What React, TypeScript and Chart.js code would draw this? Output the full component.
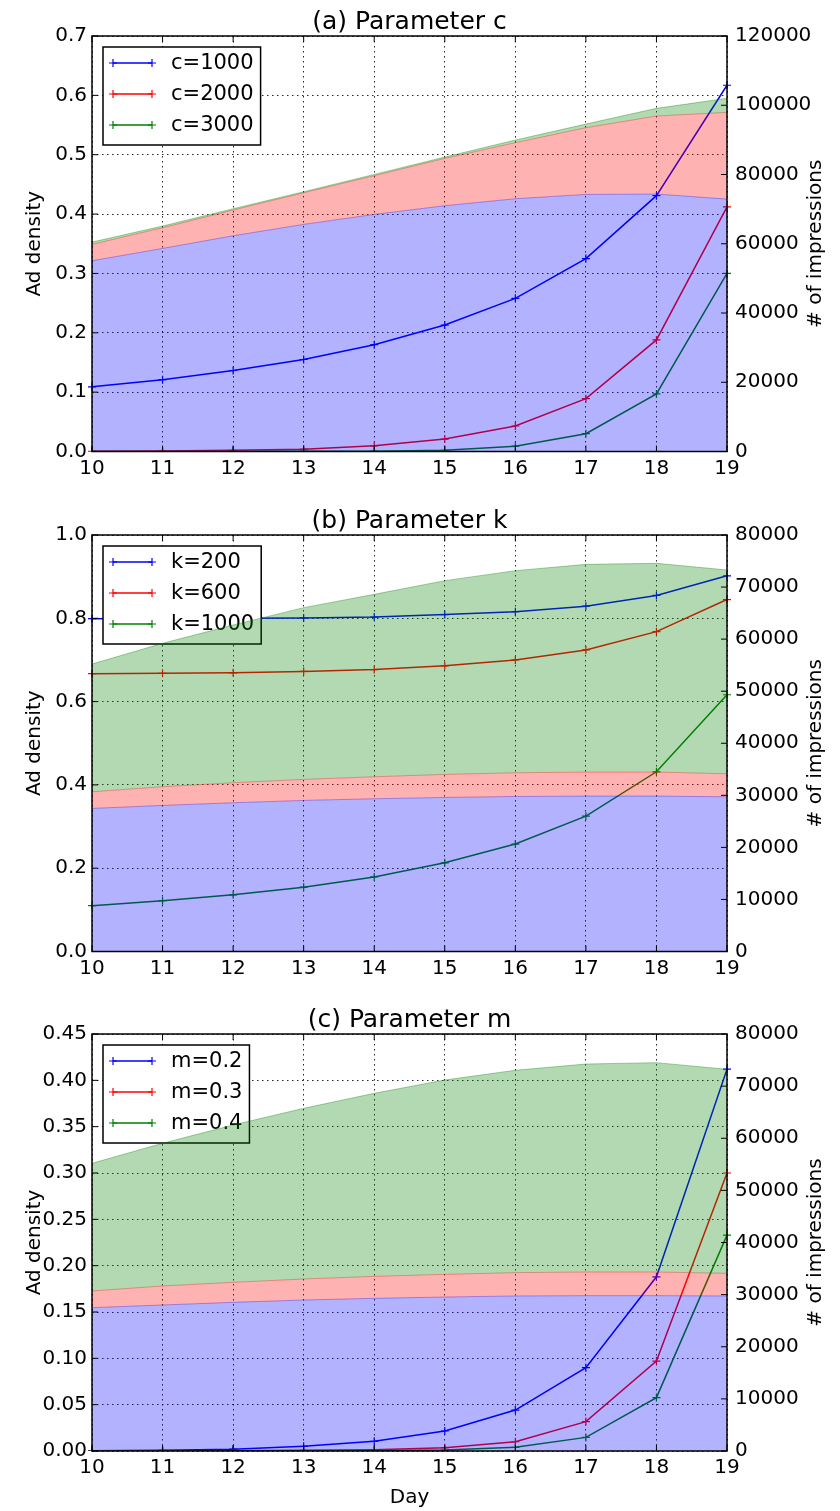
import React, { useEffect, useRef } from 'react';
import { Chart, registerables } from 'chart.js';

Chart.register(...registerables);
Chart.defaults.font.family = '"DejaVu Sans", sans-serif';

// ---------- shared ----------
const days = ['10', '11', '12', '13', '14', '15', '16', '17', '18', '19'];

// ---------- panel (a) : parameter c ----------
const labelsC = ['c=1000', 'c=2000', 'c=3000'];
const densC1000 = [0.109, 0.121, 0.1365, 0.155, 0.18, 0.213, 0.258, 0.325, 0.431, 0.617];
const densC2000 = [0.0003, 0.001, 0.002, 0.004, 0.0095, 0.021, 0.043, 0.089, 0.188, 0.412];
const densC3000 = [0, 0, 0.0001, 0.0003, 0.0006, 0.002, 0.009, 0.03, 0.097, 0.3];
const imprC1000 = [55090, 58650, 62310, 65590, 68475, 70980, 73000, 74250, 74350, 72900];
const imprC2000 = [4710, 5970, 7420, 9140, 11175, 13670, 16180, 19260, 22540, 25040];
const imprC3000 = [680, 480, 380, 290, 380, 390, 770, 1060, 2210, 4050];
const densTicksA = [0, 0.1, 0.2, 0.3, 0.4, 0.5, 0.6, 0.7];
const imprTicksA = [0, 20000, 40000, 60000, 80000, 100000, 120000];

// ---------- panel (b) : parameter k ----------
const labelsK = ['k=200', 'k=600', 'k=1000'];
const densK200 = [0.799, 0.8, 0.8, 0.801, 0.803, 0.809, 0.816, 0.829, 0.855, 0.902];
const densK600 = [0.667, 0.668, 0.669, 0.6725, 0.677, 0.686, 0.7, 0.724, 0.768, 0.845];
const densK1000 = [0.11, 0.122, 0.136, 0.1545, 0.179, 0.213, 0.258, 0.325, 0.4315, 0.6165];
const imprK200 = [27480, 28060, 28570, 29020, 29340, 29590, 29780, 29850, 29850, 29720];
const imprK600 = [3200, 3590, 3840, 4040, 4220, 4420, 4550, 4610, 4610, 4420];
const imprK1000 = [24530, 27540, 30300, 32990, 35040, 37220, 38820, 39900, 40100, 39140];
const densTicksB = [0, 0.2, 0.4, 0.6, 0.8, 1.0];
const imprTicksB = [0, 10000, 20000, 30000, 40000, 50000, 60000, 70000, 80000];

// ---------- panel (c) : parameter m ----------
const labelsM = ['m=0.2', 'm=0.3', 'm=0.4'];
const densM02 = [0.0004, 0.0007, 0.002, 0.005, 0.0104, 0.0216, 0.0442, 0.0899, 0.188, 0.412];
const densM03 = [0, 0, 0.0004, 0.0007, 0.0014, 0.0036, 0.01, 0.0317, 0.097, 0.3];
const densM04 = [0, 0, 0, 0.0001, 0.0004, 0.001, 0.004, 0.0147, 0.0576, 0.233];
const imprM02 = [27500, 28010, 28520, 28970, 29290, 29540, 29740, 29800, 29800, 29740];
const imprM03 = [3200, 3650, 3840, 4030, 4220, 4350, 4480, 4540, 4540, 4350];
const imprM04 = [24490, 27370, 30180, 32740, 35110, 37280, 38820, 39900, 40160, 39140];
const densTicksC = [0, 0.05, 0.1, 0.15, 0.2, 0.25, 0.3, 0.35, 0.4, 0.45];
const imprTicksC = [0, 10000, 20000, 30000, 40000, 50000, 60000, 70000, 80000];

const LINE_COLORS = ['#0000ff', '#ff0000', '#008000'];
const FILL_COLORS = ['rgba(0,0,255,0.3)', 'rgba(255,0,0,0.3)', 'rgba(0,128,0,0.3)'];
const EDGE_COLORS = ['rgba(0,0,255,0.35)', 'rgba(255,0,0,0.35)', 'rgba(0,128,0,0.35)'];

type Panel = {
  title: string;
  labels: string[];
  dens: number[][];
  impr: number[][];
  densTicks: number[];
  imprTicks: number[];
  decimals: number;
  top: number;
  height: number;
  plotTop: number;
  plotBottom: number;
  xTitle?: string;
};

const PLOT_LEFT = 92;
const PLOT_RIGHT = 727;
const W = 840;

const panels: Panel[] = [
  {
    title: '(a) Parameter c', labels: labelsC,
    dens: [densC1000, densC2000, densC3000], impr: [imprC1000, imprC2000, imprC3000],
    densTicks: densTicksA, imprTicks: imprTicksA, decimals: 1,
    top: 0, height: 500, plotTop: 36, plotBottom: 451.5,
  },
  {
    title: '(b) Parameter k', labels: labelsK,
    dens: [densK200, densK600, densK1000], impr: [imprK200, imprK600, imprK1000],
    densTicks: densTicksB, imprTicks: imprTicksB, decimals: 1,
    top: 500, height: 500, plotTop: 35, plotBottom: 451.5,
  },
  {
    title: '(c) Parameter m', labels: labelsM,
    dens: [densM02, densM03, densM04], impr: [imprM02, imprM03, imprM04],
    densTicks: densTicksC, imprTicks: imprTicksC, decimals: 2,
    top: 1000, height: 511, plotTop: 34, plotBottom: 451, xTitle: 'Day',
  },
];

function drawCross(ctx: CanvasRenderingContext2D, x: number, y: number, r: number) {
  ctx.beginPath();
  ctx.moveTo(x - r, y);
  ctx.lineTo(x + r, y);
  ctx.moveTo(x, y - r);
  ctx.lineTo(x, y + r);
  ctx.stroke();
}

function PanelChart({ p }: { p: Panel }) {
  const ref = useRef<HTMLCanvasElement>(null);

  useEffect(() => {
    const canvas = ref.current;
    if (!canvas) return;

    const datasets: any[] = [];
    p.dens.forEach((d, i) => {
      datasets.push({
        label: p.labels[i],
        data: d,
        yAxisID: 'y',
        borderColor: LINE_COLORS[i],
        backgroundColor: LINE_COLORS[i],
        borderWidth: 1.5,
        pointStyle: 'cross',
        pointRadius: 4,
        pointBorderWidth: 1.2,
        pointBorderColor: LINE_COLORS[i],
        fill: false,
        tension: 0,
        order: 12 - i,
        legendHook: i === p.dens.length - 1,
      });
    });
    // stacked impressions areas
    const cum: number[] = days.map(() => 0);
    p.impr.forEach((d, i) => {
      const stacked = d.map((v, j) => (cum[j] += v));
      datasets.push({
        label: 'impr-' + p.labels[i],
        data: stacked,
        yAxisID: 'y1',
        borderColor: EDGE_COLORS[i],
        backgroundColor: FILL_COLORS[i],
        borderWidth: 1,
        pointRadius: 0,
        fill: i === 0 ? 'origin' : '-1',
        tension: 0,
        order: 5 - i,
      });
    });

    const fmtTicks = (arr: number[]) => (scale: any) => {
      scale.ticks = arr.map((v) => ({ value: v }));
    };

    const decor = {
      id: 'decor',
      afterDatasetDraw(chart: any, args: any) {
        const ds = chart.data.datasets[args.index];
        if (!ds.legendHook) return;
        const ctx: CanvasRenderingContext2D = chart.ctx;
        const ca = chart.chartArea;
        ctx.save();
        ctx.font = '21px "DejaVu Sans"';
        const tw = Math.max(...p.labels.map((l) => ctx.measureText(l).width));
        const bx = ca.left + 11;
        const by = ca.top + 11;
        const textX = bx + 68;
        const bw = textX - bx + tw + 7;
        const bh = 98;
        ctx.fillStyle = '#ffffff';
        ctx.fillRect(bx, by, bw, bh);
        ctx.strokeStyle = '#000';
        ctx.lineWidth = 1.5;
        ctx.strokeRect(bx, by, bw, bh);
        p.labels.forEach((l, i) => {
          const y = by + 16 + i * 31;
          ctx.strokeStyle = LINE_COLORS[i];
          ctx.lineWidth = 1.5;
          ctx.beginPath();
          ctx.moveTo(bx + 10, y);
          ctx.lineTo(bx + 49, y);
          ctx.stroke();
          ctx.lineWidth = 1.2;
          drawCross(ctx, bx + 10, y, 4);
          drawCross(ctx, bx + 49, y, 4);
          ctx.fillStyle = '#000';
          ctx.textAlign = 'left';
          ctx.textBaseline = 'middle';
          ctx.fillText(l, textX, y + 1);
        });
        ctx.restore();
      },
      afterDraw(chart: any) {
        const ctx: CanvasRenderingContext2D = chart.ctx;
        const ca = chart.chartArea;
        const xs = chart.scales.x;
        const ys = chart.scales.y;
        const y1 = chart.scales.y1;
        ctx.save();
        // inward ticks
        ctx.strokeStyle = '#000';
        ctx.lineWidth = 1;
        const tl = 6;
        ctx.beginPath();
        days.forEach((_, i) => {
          const x = xs.getPixelForValue(i);
          ctx.moveTo(x, ca.bottom);
          ctx.lineTo(x, ca.bottom - tl);
          ctx.moveTo(x, ca.top);
          ctx.lineTo(x, ca.top + tl);
        });
        p.densTicks.forEach((v) => {
          const y = ys.getPixelForValue(v);
          ctx.moveTo(ca.left, y);
          ctx.lineTo(ca.left + tl, y);
        });
        p.imprTicks.forEach((v) => {
          const y = y1.getPixelForValue(v);
          ctx.moveTo(ca.right, y);
          ctx.lineTo(ca.right - tl, y);
        });
        ctx.stroke();
        // frame
        ctx.lineWidth = 1.5;
        ctx.strokeRect(ca.left, ca.top, ca.right - ca.left, ca.bottom - ca.top);
        // title
        ctx.fillStyle = '#000';
        ctx.font = '25px "DejaVu Sans"';
        ctx.textAlign = 'center';
        ctx.textBaseline = 'alphabetic';
        ctx.fillText(p.title, (ca.left + ca.right) / 2, ca.top - 7);
        // axis titles
        ctx.font = '20px "DejaVu Sans"';
        const cy = (ca.top + ca.bottom) / 2;
        ctx.save();
        ctx.translate(39.5, cy);
        ctx.rotate(-Math.PI / 2);
        ctx.fillText('Ad density', 0, 0);
        ctx.restore();
        ctx.save();
        ctx.translate(821, cy);
        ctx.rotate(-Math.PI / 2);
        ctx.fillText('# of impressions', 0, 0);
        ctx.restore();
        if (p.xTitle) {
          ctx.fillText(p.xTitle, (ca.left + ca.right) / 2, ca.bottom + 52);
        }
        ctx.restore();
      },
    };

    const chart = new Chart(canvas, {
      type: 'line',
      data: { labels: days, datasets },
      options: {
        animation: false,
        responsive: false,
        devicePixelRatio: 1,
        events: [],
        layout: { padding: { top: p.plotTop, left: 0, right: 0, bottom: 0 } },
        plugins: {
          legend: { display: false },
          tooltip: { enabled: false },
          title: { display: false },
        },
        scales: {
          x: {
            type: 'category',
            offset: false,
            grid: { color: 'rgba(0,0,0,0.85)', lineWidth: 1, drawTicks: false },
            border: { display: false, dash: [1.5, 3.5] },
            ticks: {
              color: '#000',
              font: { size: 20, family: '"DejaVu Sans"' },
              padding: 5,
              maxRotation: 0,
              autoSkip: false,
            },
            afterFit: (s: any) => {
              s.height = p.height - p.plotBottom;
            },
          },
          y: {
            type: 'linear',
            position: 'left',
            min: p.densTicks[0],
            max: p.densTicks[p.densTicks.length - 1],
            afterBuildTicks: fmtTicks(p.densTicks),
            grid: { color: 'rgba(0,0,0,0.85)', lineWidth: 1, drawTicks: false },
            border: { display: false, dash: [1.5, 3.5] },
            ticks: {
              color: '#000',
              font: { size: 20, family: '"DejaVu Sans"' },
              padding: 5,
              callback: (v: any) => Number(v).toFixed(p.decimals),
            },
            afterFit: (s: any) => {
              s.width = PLOT_LEFT;
            },
          },
          y1: {
            type: 'linear',
            position: 'right',
            min: p.imprTicks[0],
            max: p.imprTicks[p.imprTicks.length - 1],
            afterBuildTicks: fmtTicks(p.imprTicks),
            grid: { display: false, drawOnChartArea: false, drawTicks: false },
            border: { display: false },
            ticks: {
              color: '#000',
              font: { size: 20, family: '"DejaVu Sans"' },
              padding: 8,
              callback: (v: any) => String(Math.round(Number(v))),
            },
            afterFit: (s: any) => {
              s.width = W - PLOT_RIGHT;
            },
          },
        },
      } as any,
      plugins: [decor],
    });

    return () => chart.destroy();
  }, [p]);

  return (
    <canvas
      ref={ref}
      width={W}
      height={p.height}
      style={{ position: 'absolute', left: 0, top: p.top, width: W, height: p.height }}
    />
  );
}

export default function App() {
  return (
    <div style={{ position: 'absolute', left: 0, top: 0, width: W, height: 1511, background: '#fff' }}>
      {panels.map((p, i) => (
        <PanelChart key={i} p={p} />
      ))}
    </div>
  );
}
